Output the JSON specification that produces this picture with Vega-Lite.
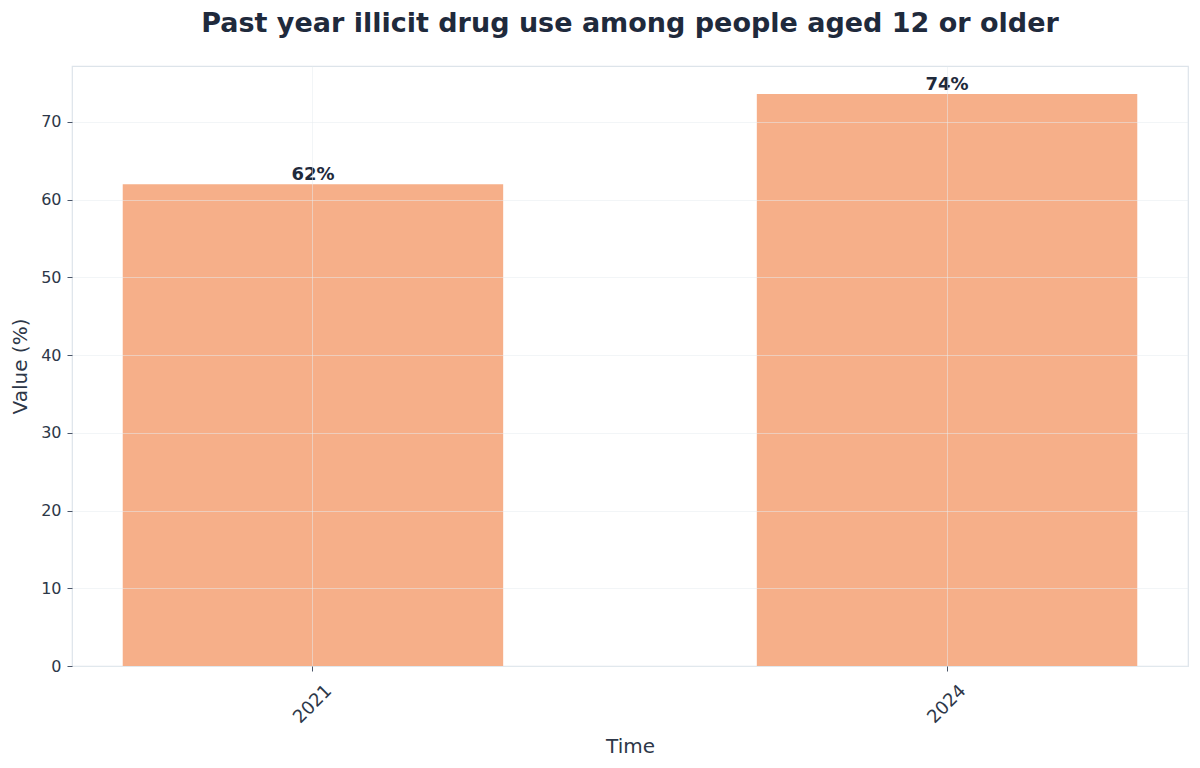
{
  "$schema": "https://vega.github.io/schema/vega-lite/v6.json",
  "width": 1116,
  "height": 600,
  "autosize": {"type": "none"},
  "padding": {"left": 72, "top": 66, "right": 12, "bottom": 102},
  "background": "white",
  "title": {
    "text": "Past year illicit drug use among people aged 12 or older",
    "font": "DejaVu Sans",
    "fontSize": 27,
    "fontWeight": "bold",
    "color": "#1f2a3c",
    "anchor": "middle",
    "offset": 28
  },
  "config": {
    "view": {"stroke": "#dde4ea", "strokeWidth": 1.2},
    "font": "DejaVu Sans"
  },
  "data": {
    "values": [
      {"Time": "2021", "Value": 62.0, "Label": "62%"},
      {"Time": "2024", "Value": 73.6, "Label": "74%"}
    ]
  },
  "encoding": {
    "x": {
      "field": "Time",
      "type": "ordinal",
      "scale": {"paddingInner": 0.4, "paddingOuter": 0.08},
      "axis": {
        "title": "Time",
        "titleFont": "DejaVu Sans",
        "titleFontSize": 20,
        "titleFontWeight": "normal",
        "titleColor": "#2d3748",
        "titlePadding": 10,
        "labelAngle": -45,
        "labelAlign": "center",
        "labelBaseline": "middle",
        "labelFontSize": 18,
        "labelColor": "#2d3748",
        "labelPadding": 33,
        "tickColor": "#4a5568",
        "tickSize": 5,
        "domain": false,
        "grid": true,
        "gridColor": "#e6ebf0",
        "gridOpacity": 0.5,
        "zindex": 1
      }
    }
  },
  "layer": [
    {
      "mark": {"type": "bar", "color": "#f6af89"},
      "encoding": {
        "y": {
          "field": "Value",
          "type": "quantitative",
          "scale": {"domain": [0, 77.2], "nice": false},
          "axis": {
            "title": "Value (%)",
            "titleFont": "DejaVu Sans",
            "titleFontSize": 20,
            "titleFontWeight": "normal",
            "titleColor": "#2d3748",
            "titlePadding": 10,
            "values": [0, 10, 20, 30, 40, 50, 60, 70],
            "labelFontSize": 16,
            "labelColor": "#2d3748",
            "labelPadding": 6,
            "tickColor": "#4a5568",
            "tickSize": 5,
            "domain": false,
            "grid": true,
            "gridColor": "#e6ebf0",
            "gridOpacity": 0.5,
            "zindex": 1
          }
        }
      }
    },
    {
      "mark": {"type": "text", "baseline": "bottom", "dy": 0, "fontSize": 18, "fontWeight": "bold", "color": "#1f2a3c", "font": "DejaVu Sans"},
      "encoding": {
        "y": {"field": "Value", "type": "quantitative"},
        "text": {"field": "Label"}
      }
    }
  ]
}
